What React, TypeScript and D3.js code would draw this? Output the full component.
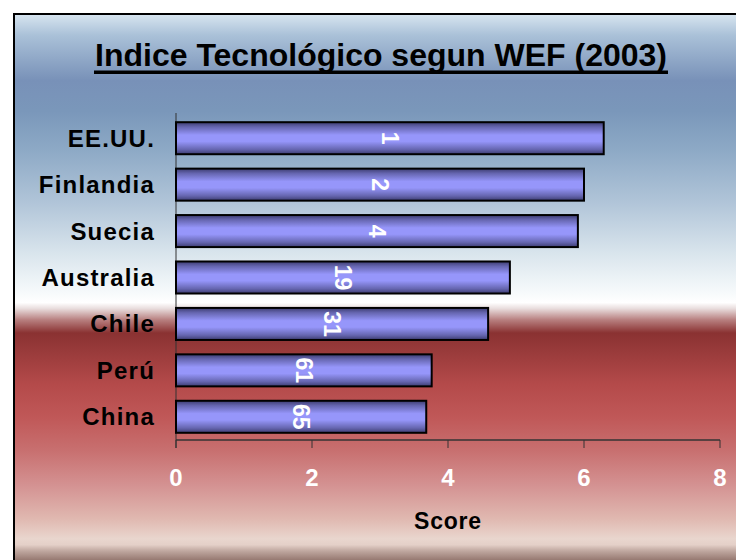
import React from "react";
import * as d3 from "d3";

const categories = ["EE.UU.", "Finlandia", "Suecia", "Australia", "Chile", "Perú", "China"];
const scores = [6.29, 6.0, 5.91, 4.91, 4.59, 3.76, 3.68];
const ranks = ["1", "2", "4", "19", "31", "61", "65"];
const xTicks = [0, 2, 4, 6, 8];
const title = "Indice Tecnológico segun WEF (2003)";
const xTitle = "Score";

const W = 736;
const H = 560;
const FONT = "'Liberation Sans', Arial, Helvetica, sans-serif";

const bgStops: [number, string][] = [
  [15, "#d6e4ef"],
  [35, "#aac1d8"],
  [80, "#7891b8"],
  [110, "#7a97ba"],
  [150, "#8eaac6"],
  [200, "#b0c4d8"],
  [250, "#d8e4ec"],
  [292, "#f8fbfc"],
  [300, "#ffffff"],
  [306, "#e8dcdc"],
  [317, "#b88080"],
  [330, "#8a3232"],
  [347, "#983a3a"],
  [381, "#b44a4a"],
  [414, "#c05858"],
  [447, "#c87070"],
  [481, "#d49292"],
  [514, "#e0b8b0"],
  [534, "#e9d6ce"],
  [540, "#e4d0c8"],
  [546, "#c0a8a0"],
  [560, "#806058"],
];

export default function App() {
  const x = d3.scaleLinear().domain([0, 8]).range([176, 720]);
  const y = d3.scaleBand<string>().domain(categories).range([115, 440]).paddingInner(0.31).paddingOuter(0.155);
  const bgTop = 15;
  const bgH = H - bgTop;

  return (
    <svg
      width={W}
      height={H}
      style={{ position: "absolute", left: 0, top: 0, display: "block" }}
      xmlns="http://www.w3.org/2000/svg"
    >
      <defs>
        <linearGradient id="bg" x1="0" y1="0" x2="0" y2="1">
          {bgStops.map(([yy, c], i) => (
            <stop key={i} offset={(yy - bgTop) / bgH} stopColor={c} />
          ))}
        </linearGradient>
        <linearGradient id="bar" x1="0" y1="0" x2="0" y2="1">
          <stop offset="0" stopColor="#3c3c70" />
          <stop offset="0.15" stopColor="#6666b0" />
          <stop offset="0.4" stopColor="#9696fa" />
          <stop offset="0.6" stopColor="#9696fa" />
          <stop offset="0.85" stopColor="#6666b0" />
          <stop offset="1" stopColor="#3c3c70" />
        </linearGradient>
      </defs>
      <rect x={0} y={0} width={W} height={H} fill="#ffffff" />
      <rect x={bgTop} y={bgTop} width={W - bgTop + 5} height={bgH + 5} fill="url(#bg)" />
      <path d={`M14,${H + 2} V14 H${W + 2}`} fill="none" stroke="#000" strokeWidth={2} />

      <text
        x={381}
        y={66}
        textAnchor="middle"
        fontFamily={FONT}
        fontWeight="bold"
        fontSize={32}
        fill="#000"
      >
        {title}
      </text>
      <rect x={94} y={70.5} width={574} height={3.5} fill="#000" />

      {/* y axis */}
      <line x1={x(0)} x2={x(0)} y1={113} y2={448} stroke="#333" strokeWidth={1} />
      {/* x axis */}
      <line x1={x(0)} x2={x(8)} y1={440} y2={440} stroke="#333" strokeWidth={1.5} />
      {xTicks.map((t) => (
        <g key={t}>
          <line x1={x(t)} x2={x(t)} y1={440} y2={448} stroke="#333" strokeWidth={1} />
          <text
            x={x(t)}
            y={486}
            textAnchor="middle"
            fontFamily={FONT}
            fontWeight="bold"
            fontSize={24}
            fill="#ffffff"
          >
            {t}
          </text>
        </g>
      ))}
      <text
        x={448}
        y={529}
        textAnchor="middle"
        fontFamily={FONT}
        fontWeight="bold"
        fontSize={23}
        letterSpacing={0.8}
        fill="#000"
      >
        {xTitle}
      </text>

      {categories.map((c, i) => {
        const by = y(c)!;
        const bh = y.bandwidth();
        const cy = by + bh / 2;
        const x0 = x(0);
        const x1 = x(scores[i]);
        const cx = (x0 + x1) / 2;
        return (
          <g key={c}>
            <text
              x={155}
              y={cy + 8.5}
              textAnchor="end"
              fontFamily={FONT}
              fontWeight="bold"
              fontSize={24}
              letterSpacing={1.2}
              fill="#000"
            >
              {c}
            </text>
            <rect x={x0} y={by} width={x1 - x0} height={bh} fill="url(#bar)" stroke="#000" strokeWidth={2} />
            <text
              transform={`translate(${cx},${cy}) rotate(90)`}
              textAnchor="middle"
              dy="0.36em"
              fontFamily={FONT}
              fontWeight="bold"
              fontSize={23}
              fill="#ffffff"
            >
              {ranks[i]}
            </text>
          </g>
        );
      })}
    </svg>
  );
}
